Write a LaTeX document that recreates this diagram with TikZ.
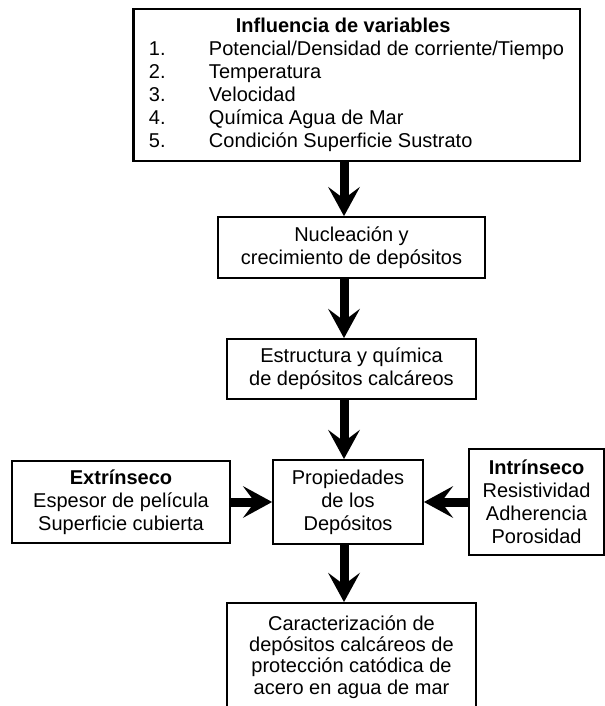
\documentclass[tikz,border=0pt]{standalone}
\usepackage{fontspec}
\setmainfont{Liberation Sans}
\usetikzlibrary{arrows.meta,positioning}

\begin{document}
\begin{tikzpicture}[x=0.75pt,y=-0.75pt,>={Stealth[length=22pt,width=24pt,inset=9pt,line width=0pt]},
  caja/.style={draw,line width=1.4pt,align=center,inner sep=0pt,font=\fontsize{15}{17.25}\selectfont},
  flecha/.style={->,line width=6.75pt}]

                    \useasboundingbox (0,0) rectangle (605,706);
                    \clip (0,0) rectangle (605,706);
                    \coordinate (eje) at (344,0);

                    \node[caja, line width=2pt, minimum width=335pt, minimum height=114pt] (1) at (356.5,85) {\begin{tabular}{@{}p{45pt}@{}l@{}}
                        \multicolumn{2}{c}{\textbf{Influencia de variables}\hspace*{20pt}}\\
                        1. & Potencial/Densidad de corriente/Tiempo\\
                        2. & Temperatura\\
                        3. & Velocidad\\
                        4. & Química Agua de Mar\\
                        5. & Condición Superficie Sustrato
                    \end{tabular}};
                    \node[caja, minimum width=200pt, minimum height=45.75pt] (2) [node distance=121.9pt, below of = 1, xshift=-3.75pt]{Nucleación y\\crecimiento de depósitos};
                    \node[caja, minimum width=186.75pt, minimum height=45pt] (3) [node distance=91.1pt, below of = 2]{Estructura y química\\de depósitos calcáreos};
                    \node[caja, minimum width=112.5pt, minimum height=63pt] (4) [node distance=99.75pt, below of = 3, xshift=-2.6pt]{Propiedades\\de los\\Depósitos};
                    \node[caja, minimum width=186.75pt, minimum height=81pt, font=\fontsize{15}{16}\selectfont] (5) [node distance=116.25pt, below of = 4, xshift=2.6pt]{Caracterización de\\depósitos calcáreos de\\protección catódica de\\acero en agua de mar};
                    \node[caja, minimum width=163.5pt, minimum height=61.5pt] (6) [node distance=170.25pt, left of = 4]{\textbf{Extrínseco}\\Espesor de película\\Superficie cubierta};
                    \node[caja, minimum width=101.25pt, minimum height=79.5pt] (7) [node distance=141.4pt, right of = 4]{\textbf{Intrínseco}\\Resistividad\\Adherencia\\Porosidad};

                    \draw[flecha] (1.south -| eje) to (2.north -| eje);
                    \draw[flecha] (2.south -| eje) to (3.north -| eje);
                    \draw[flecha] (3.south -| eje) to (4.north -| eje);
                    \draw[flecha] (4.south -| eje) to (5.north -| eje);
                    \draw[flecha] (6) to (4);
                    \draw[flecha] (7) to (4);

                \end{tikzpicture}
\end{document}
